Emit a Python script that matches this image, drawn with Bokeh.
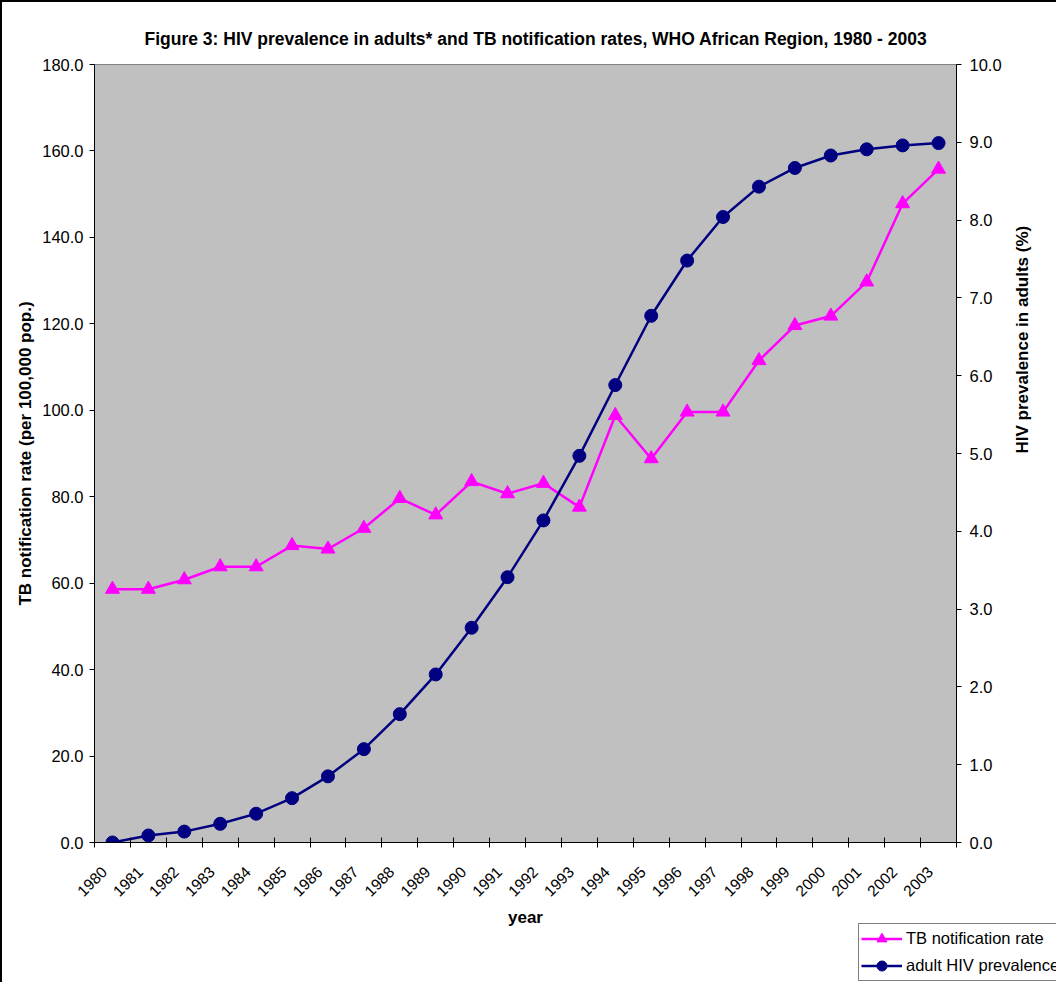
from bokeh.plotting import figure
from bokeh.layouts import column
from bokeh.models import (Range1d, LinearAxis, FixedTicker, NumeralTickFormatter,
                          CustomJSTickFormatter, Legend, LegendItem, ColumnDataSource)
from bokeh.embed import file_html
from bokeh.resources import INLINE
import math

# ---- data ----
years = list(range(1980, 2004))
tb_rate = [58.6, 58.6, 60.8, 63.8, 63.8, 68.7, 67.9, 72.7, 79.6, 75.8, 83.5, 80.7,
           83.1, 77.6, 98.8, 88.8, 99.6, 99.6, 111.5, 119.6, 121.8, 129.7, 147.8, 155.8]
hiv_prev = [0.0, 0.09, 0.14, 0.24, 0.37, 0.57, 0.85, 1.20, 1.65, 2.16, 2.76, 3.41,
            4.14, 4.97, 5.88, 6.77, 7.48, 8.04, 8.43, 8.67, 8.83, 8.91, 8.96, 8.99]
left_ticks = [0, 20, 40, 60, 80, 100, 120, 140, 160, 180]
right_ticks = [0, 1, 2, 3, 4, 5, 6, 7, 8, 9, 10]

title_text = "Figure 3: HIV prevalence in adults* and TB notification rates, WHO African Region, 1980 - 2003"
x_label = "year"
left_label = "TB notification rate (per 100,000 pop.)"
right_label = "HIV prevalence in adults (%)"
tb_name = "TB notification rate"
hiv_name = "adult HIV prevalence"

FONT = "Liberation Sans"
TB_COLOR = "#FF00FF"
HIV_COLOR = "#000080"
TICK_FS = "16.5px"
XTICK_FS = "15.5px"
BOLD_FS = "17px"
LABEL_SHIFT = 0.22   # leftward nudge of rotated year labels (in category widths)

src = ColumnDataSource(dict(year=years, tb=tb_rate, hiv=hiv_prev))

p = figure(width=1056, height=982, output_backend="svg", toolbar_location=None,
           x_range=Range1d(years[0] - 0.5, years[-1] + 0.5),
           y_range=Range1d(left_ticks[0], left_ticks[-1]),
           min_border_left=94, min_border_right=100, min_border_top=64, min_border_bottom=140,
           background_fill_color="#C0C0C0", border_fill_color=None,
           outline_line_color="#808080", outline_line_width=1)
p.frame_align = False
p.styles = {"box-shadow": "inset 2px 2px 0 0 #000000"}
p.extra_y_ranges = {"hiv": Range1d(right_ticks[0], right_ticks[-1])}
p.xgrid.visible = False
p.ygrid.visible = False

# title
p.title.text = title_text
p.title.align = "left"
p.title.offset = 50
p.title.text_font = FONT
p.title.text_font_size = "17.5px"
p.title.text_font_style = "bold"
p.title.text_color = "#000000"
p.title.standoff = 31

# x axis
xa = p.xaxis[0]
xa.ticker = FixedTicker(ticks=[y - LABEL_SHIFT for y in years],
                        minor_ticks=[y - 0.5 for y in years] + [years[-1] + 0.5])
xa.formatter = CustomJSTickFormatter(code="return Math.round(tick).toFixed(0);")
xa.major_tick_line_color = None
xa.minor_tick_in = 5
xa.minor_tick_out = 5
xa.minor_tick_line_color = "#000000"
xa.axis_line_color = "#000000"
xa.axis_line_width = 1
xa.major_label_orientation = math.pi / 4
xa.major_label_text_font = FONT
xa.major_label_text_font_size = XTICK_FS
xa.major_label_text_color = "#000000"
xa.major_label_standoff = 21
xa.axis_label = x_label
xa.axis_label_text_font = FONT
xa.axis_label_text_font_size = BOLD_FS
xa.axis_label_text_font_style = "bold"
xa.axis_label_text_color = "#000000"
xa.axis_label_standoff = 4

# left axis
ya = p.yaxis[0]
ya.ticker = FixedTicker(ticks=left_ticks, minor_ticks=[])
ya.formatter = NumeralTickFormatter(format="0.0")
ya.major_tick_in = 0
ya.major_tick_out = 5
ya.major_tick_line_color = "#000000"
ya.minor_tick_line_color = None
ya.axis_line_color = "#000000"
ya.major_label_text_font = FONT
ya.major_label_text_font_size = TICK_FS
ya.major_label_text_color = "#000000"
ya.major_label_standoff = 6
ya.axis_label = left_label
ya.axis_label_text_font = FONT
ya.axis_label_text_font_size = BOLD_FS
ya.axis_label_text_font_style = "bold"
ya.axis_label_text_color = "#000000"
ya.axis_label_standoff = 4

# right axis
ra = LinearAxis(y_range_name="hiv",
                ticker=FixedTicker(ticks=right_ticks, minor_ticks=[]),
                formatter=NumeralTickFormatter(format="0.0"))
ra.major_tick_in = 0
ra.major_tick_out = 5
ra.major_tick_line_color = "#000000"
ra.minor_tick_line_color = None
ra.axis_line_color = "#000000"
ra.major_label_text_font = FONT
ra.major_label_text_font_size = TICK_FS
ra.major_label_text_color = "#000000"
ra.major_label_standoff = 8
ra.axis_label = right_label
ra.axis_label_orientation = math.pi / 2
ra.axis_label_text_font = FONT
ra.axis_label_text_font_size = BOLD_FS
ra.axis_label_text_font_style = "bold"
ra.axis_label_text_color = "#000000"
ra.axis_label_standoff = 18
p.add_layout(ra, "right")

# series
tb_line = p.line("year", "tb", source=src, line_color=TB_COLOR, line_width=2.5)
tb_pts = p.scatter("year", "tb", source=src, marker="triangle", size=14,
                   fill_color=TB_COLOR, line_color=TB_COLOR)
hiv_line = p.line("year", "hiv", source=src, y_range_name="hiv",
                  line_color=HIV_COLOR, line_width=2.5)
hiv_pts = p.scatter("year", "hiv", source=src, y_range_name="hiv", marker="circle",
                    size=13, fill_color=HIV_COLOR, line_color=HIV_COLOR)

# ---- legend: small overlay figure placed over the bottom-right corner ----
# (its renderers use the same data but lie outside this tiny figure's view,
#  they only provide the legend samples)
LEG_W, LEG_H = 199, 60
lf = figure(width=LEG_W, height=LEG_H, output_backend="svg", toolbar_location=None,
            min_border=0, x_range=Range1d(0, 1), y_range=Range1d(0, 1),
            background_fill_color=None, border_fill_color=None, outline_line_color=None)
lf.frame_align = False
lf.axis.visible = False
lf.xgrid.visible = False
lf.ygrid.visible = False
l_tb_line = lf.line("year", "tb", source=src, line_color=TB_COLOR, line_width=2.5)
l_tb_pts = lf.scatter("year", "tb", source=src, marker="triangle", size=14,
                      fill_color=TB_COLOR, line_color=TB_COLOR)
l_hiv_line = lf.line("year", "hiv", source=src, line_color=HIV_COLOR, line_width=2.5)
l_hiv_pts = lf.scatter("year", "hiv", source=src, marker="circle", size=13,
                       fill_color=HIV_COLOR, line_color=HIV_COLOR)
legend = Legend(items=[LegendItem(label=tb_name, renderers=[l_tb_line, l_tb_pts]),
                       LegendItem(label=hiv_name, renderers=[l_hiv_line, l_hiv_pts])],
                location="top_left", orientation="vertical",
                border_line_color="#000000", border_line_width=1,
                background_fill_color="#FFFFFF", background_fill_alpha=1.0,
                label_text_font=FONT, label_text_font_size=TICK_FS,
                label_text_color="#000000",
                glyph_width=41, glyph_height=25, label_height=25,
                label_standoff=4, padding=2, spacing=2, margin=1)
lf.add_layout(legend, "center")
lf.margin = (-LEG_H, 0, 0, 1056 - LEG_W)

layout = column(p, lf, spacing=0)
open("out.html", "w").write(file_html(layout, INLINE))
